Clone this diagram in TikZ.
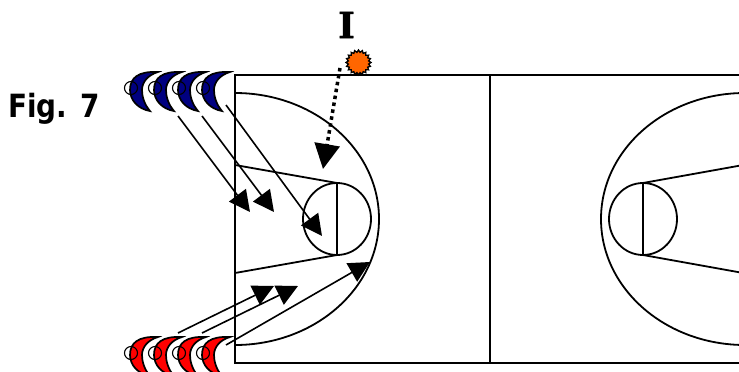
\documentclass[tikz,border=0pt]{standalone}
\usepackage{fontspec}
\setmainfont{DejaVu Sans}[FakeStretch=0.87]
\newfontfamily\slabfont{DejaVu Serif}[FakeBold=1.2]
\usetikzlibrary{arrows.meta,shapes.geometric}
\definecolor{teamblue}{RGB}{0,0,128}
\definecolor{teamred}{RGB}{255,0,0}
\definecolor{ballorange}{RGB}{255,102,0}
\tikzset{
  court/.style={line width=1.8pt},
  run/.style={line width=1.6pt, -{Triangle[length=21pt,width=21pt]}},
  pass/.style={line width=3.5pt, dash pattern=on 3.5pt off 3.5pt, -{Triangle[length=25pt,width=25pt]}},
  crescent/.style={line width=1.7pt},
  head/.style={line width=1.1pt}
}
\newcommand{\player}[3]{%
  \fill[#3] (#1+28,#2-16) .. controls (#1+8,#2-17) and (#1,#2-10) .. (#1,#2+2)
    .. controls (#1,#2+12) and (#1+8,#2+21) .. (#1+20,#2+23)
    .. controls (#1+14,#2+16) and (#1+12,#2+8) .. (#1+12,#2+2)
    .. controls (#1+12,#2-6) and (#1+18,#2-13) .. cycle;
  \draw[crescent] (#1+28,#2-16) .. controls (#1+8,#2-17) and (#1,#2-10) .. (#1,#2+2)
    .. controls (#1,#2+12) and (#1+8,#2+21) .. (#1+20,#2+23)
    .. controls (#1+14,#2+16) and (#1+12,#2+8) .. (#1+12,#2+2)
    .. controls (#1+12,#2-6) and (#1+18,#2-13) .. cycle;
  \draw[head] (#1+1,#2) circle (6.5);
}
\begin{document}
\begin{tikzpicture}[x=1pt,y=-1pt]
\useasboundingbox (0,0) rectangle (739,372);
\clip (0,0) rectangle (739,372);
\fill[white] (0,0) rectangle (739,372);
% the court
\draw[court] (760,75) -- (235,75) -- (235,363) -- (760,363);
\draw[court] (490,75) -- (490,363);
% left half
\draw[court] (235,93) arc[start angle=-90, end angle=90, x radius=144, y radius=126];
\draw[court] (337,219) ellipse (34 and 36);
\draw[court] (337,183) -- (337,255);
\draw[court] (235,165) -- (337,183);
\draw[court] (235,273) -- (337,255);
% right half
\draw[court] (745,93) arc[start angle=-90, end angle=-270, x radius=144, y radius=126];
\draw[court] (643,219) ellipse (34 and 36);
\draw[court] (643,183) -- (643,255);
\draw[court] (643,183) -- (760,162);
\draw[court] (643,255) -- (760,276);
% the players
\foreach \x in {130,154,178,202} {
  \player{\x}{88}{teamblue}
  \player{\x}{353}{teamred}
}
% ends of the runs
\coordinate (b1) at (178,116);
\coordinate (b2) at (202,116);
\coordinate (b3) at (226,105);
\coordinate (b1end) at (250,212);
\coordinate (b2end) at (274,212);
\coordinate (b3end) at (322,236);
\coordinate (r1) at (178,333);
\coordinate (r2) at (202,333);
\coordinate (r3) at (226,345);
\coordinate (r1end) at (274,286);
\coordinate (r2end) at (298,286);
\coordinate (r3end) at (370,262);
\foreach \a/\b in {b1/b1end,b2/b2end,b3/b3end,r1/r1end,r2/r2end,r3/r3end}
  \draw[run] (\a) -- (\b);
% ball and pass
\node[star, star points=20, star point ratio=1.22, minimum size=25pt, inner sep=0pt, draw, line width=1.3pt, fill=ballorange] (ball) at (358.5,62.5) {};
\coordinate (passstart) at (340,68);
\coordinate (passend) at (323,169);
\draw[pass] (passstart) -- (passend);
% labels
\node[font=\fontsize{36}{36}\selectfont\slabfont\bfseries, inner sep=0pt] (coach) at (346.5,25) {I};
\node[font=\fontsize{32}{32}\selectfont\bfseries, inner sep=0pt, anchor=base west] (fig) at (8,117) {Fig. 7};
\end{tikzpicture}
\end{document}
